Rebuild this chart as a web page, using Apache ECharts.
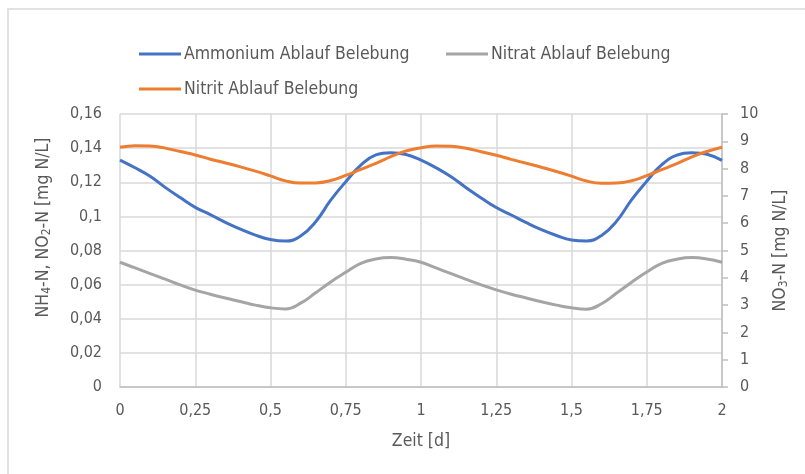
<!DOCTYPE html>
<html>
<head>
<meta charset="utf-8">
<script src="https://cdn.jsdelivr.net/npm/echarts@6/dist/echarts.min.js"></script>
<style>
  html, body { margin: 0; padding: 0; background: #fff; }
  #chart { width: 805px; height: 474px; }
</style>
</head>
<body>
<div id="chart"></div>
<script>
// Zeit [d]
const zeit = [
  0, 0.05, 0.1, 0.15, 0.2, 0.25, 0.3, 0.35, 0.4, 0.45, 0.5, 0.55, 0.6, 0.65, 0.7, 0.75, 0.8, 0.85, 0.9, 0.95,
  1, 1.05, 1.1, 1.15, 1.2, 1.25, 1.3, 1.35, 1.4, 1.45, 1.5, 1.55, 1.6, 1.65, 1.7, 1.75, 1.8, 1.85, 1.9, 1.95, 2
]
// NH4-N [mg N/L], left axis
const ammonium = [
  0.133, 0.1285, 0.1235, 0.117, 0.111, 0.1053, 0.101, 0.0965, 0.0925, 0.089, 0.0864, 0.0855, 0.0885, 0.0968, 0.1095, 0.1203, 0.13, 0.136, 0.1373, 0.1363,
  0.133, 0.1285, 0.1232, 0.1168, 0.1108, 0.1052, 0.1008, 0.0963, 0.0922, 0.0888, 0.0862, 0.0856, 0.0888, 0.0972, 0.1098, 0.1206, 0.1303, 0.1359, 0.1373, 0.1364, 0.1328
]
// NO2-N [mg N/L], left axis
const nitrit = [
  0.1405, 0.1414, 0.1412, 0.14, 0.138, 0.136, 0.1335, 0.1313, 0.129, 0.1265, 0.1237, 0.1208, 0.1195, 0.1196, 0.121, 0.124, 0.1275, 0.131, 0.135, 0.1383,
  0.1402, 0.1413, 0.1411, 0.1399, 0.1379, 0.1358, 0.1334, 0.1311, 0.1288, 0.1263, 0.1236, 0.1207, 0.1194, 0.1195, 0.1209, 0.1239, 0.1274, 0.1309, 0.1349, 0.138, 0.1405
]
// NO3-N [mg N/L], right axis
const nitrat = [
  4.57, 4.36, 4.15, 3.95, 3.74, 3.55, 3.4, 3.26, 3.13, 3.0, 2.9, 2.86, 3.07, 3.45, 3.85, 4.2, 4.53, 4.69, 4.74, 4.68,
  4.57, 4.36, 4.15, 3.94, 3.74, 3.56, 3.4, 3.26, 3.12, 3.0, 2.9, 2.85, 3.05, 3.44, 3.84, 4.21, 4.53, 4.68, 4.74, 4.69, 4.57
]

const names = ['Ammonium Ablauf Belebung', 'Nitrat Ablauf Belebung', 'Nitrit Ablauf Belebung']
const colors = ['#4472C4', '#A5A5A5', '#ED7D31']

const FONT = '"DejaVu Sans Condensed", "Liberation Sans", sans-serif'
const txt = '#595959'
const comma = v => String(+v.toFixed(2)).replace('.', ',')

const chart = echarts.init(document.getElementById('chart'), null, { renderer: 'canvas' })

const legendBase = {
  icon: 'rect',
  itemWidth: 42,
  itemHeight: 3,
  itemGap: 0,
  textStyle: { color: txt, fontSize: 17.5, fontFamily: FONT, padding: [0, 0, 0, -2] },
  selectedMode: false
}

const lineSeries = (name, color, axis, values) => ({
  name: name,
  type: 'line',
  yAxisIndex: axis,
  smooth: 0.45,
  showSymbol: false,
  lineStyle: { width: 3, color: color },
  data: zeit.map((t, i) => [t, values[i]])
})

chart.setOption({
  animation: false,
  color: colors,
  textStyle: { fontFamily: FONT },
  graphic: [
    // outer chart frame (cropped at right / bottom)
    { type: 'rect', shape: { x: 8, y: 9, width: 900, height: 600 }, style: { fill: 'none', stroke: '#d9d9d9', lineWidth: 1.5 }, silent: true }
  ],
  legend: [
    Object.assign({}, legendBase, { data: [names[0]], left: 134, top: 40 }),
    Object.assign({}, legendBase, { data: [names[1]], left: 441, top: 40 }),
    Object.assign({}, legendBase, { data: [names[2]], left: 134, top: 75 })
  ],
  grid: { left: 120, right: 83, top: 114, bottom: 87 },
  xAxis: {
    type: 'value',
    min: 0,
    max: 2,
    interval: 0.25,
    name: 'Zeit [d]',
    nameLocation: 'middle',
    nameGap: 45,
    nameTextStyle: { color: txt, fontSize: 17.5, fontFamily: FONT },
    axisLine: { show: true, lineStyle: { color: '#bfbfbf', width: 1.5 } },
    axisTick: { show: false },
    axisLabel: { color: txt, fontSize: 16, fontFamily: FONT, margin: 16, formatter: comma },
    splitLine: { show: true, lineStyle: { color: '#d9d9d9', width: 1.5 } }
  },
  yAxis: [
    {
      type: 'value',
      min: 0,
      max: 0.16,
      interval: 0.02,
      position: 'left',
      name: '{n|NH}{s|4}{n|-N, NO}{s|2}{n|-N [mg N/L]}',
      nameLocation: 'middle',
      nameRotate: 90,
      nameGap: 67,
      nameTextStyle: {
        padding: [0, 0, 0, 46],
        rich: {
          n: { color: txt, fontSize: 17.5, fontFamily: FONT },
          s: { color: txt, fontSize: 12, fontFamily: FONT, padding: [8, 0, 0, 0] }
        }
      },
      axisLine: { show: false },
      axisTick: { show: false },
      axisLabel: { color: txt, fontSize: 16, fontFamily: FONT, margin: 18, formatter: comma },
      splitLine: { show: true, lineStyle: { color: '#d9d9d9', width: 1.5 } }
    },
    {
      type: 'value',
      min: 0,
      max: 10,
      interval: 1,
      position: 'right',
      name: '{n|NO}{s|3}{n|-N [mg N/L]}',
      nameLocation: 'middle',
      nameRotate: 90,
      nameGap: 48,
      nameTextStyle: {
        rich: {
          n: { color: txt, fontSize: 17.5, fontFamily: FONT },
          s: { color: txt, fontSize: 12, fontFamily: FONT, padding: [8, 0, 0, 0] }
        }
      },
      axisLine: { show: true, lineStyle: { color: '#bfbfbf', width: 1.5 } },
      axisTick: { show: true, length: 6, lineStyle: { color: '#bfbfbf', width: 1.5 } },
      axisLabel: { color: txt, fontSize: 16, fontFamily: FONT, margin: 18 },
      splitLine: { show: false }
    }
  ],
  series: [
    lineSeries(names[0], colors[0], 0, ammonium),
    lineSeries(names[1], colors[1], 1, nitrat),
    lineSeries(names[2], colors[2], 0, nitrit)
  ]
})
</script>
</body>
</html>
